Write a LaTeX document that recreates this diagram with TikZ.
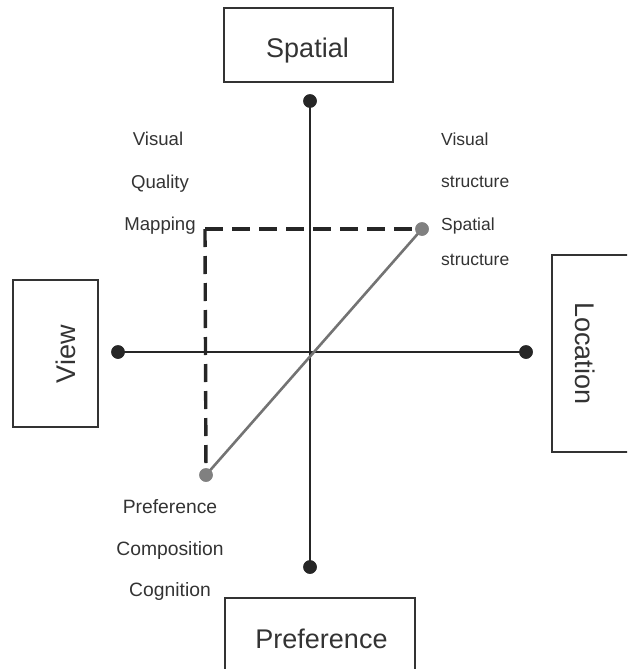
\documentclass[tikz,border=0pt]{standalone}
\usepackage{fontspec}
\setmainfont{Liberation Sans}
\begin{document}
\begin{tikzpicture}[x=1pt,y=-1pt,
  dot/.style={circle,fill=black!85,inner sep=0pt,minimum size=13.5pt},
  gdot/.style={circle,fill=black!50,inner sep=0pt,minimum size=13.5pt},
  axisline/.style={draw=black!85,line width=1.6pt},
  boxnode/.style={draw=black!80,line width=1.5pt,inner sep=0pt},
  dashline/.style={draw=black!85,line width=3.4pt,dash pattern=on 18pt off 9pt},
  greyline/.style={draw=black!55,line width=2.6pt},
  lbl/.style={font=\fontsize{17.5}{20}\selectfont,text=black!80,inner sep=0pt},
  lblb/.style={font=\fontsize{18.6}{21}\selectfont,text=black!80,inner sep=0pt},
  lblc/.style={font=\fontsize{19.3}{22}\selectfont,text=black!80,inner sep=0pt},
  big/.style={font=\fontsize{27}{30}\selectfont,text=black!80,inner sep=0pt}]
\useasboundingbox (0,0) rectangle (627,669);
\clip (0,0) rectangle (627,669);

% boxes
\node[boxnode,minimum width=169pt,minimum height=74pt] (spatialbox) at (308.5,45) {};
\node[boxnode,minimum width=190pt,minimum height=92pt] (prefbox) at (320,644) {};
\node[boxnode,minimum width=85pt,minimum height=147pt] (viewbox) at (55.5,353.5) {};
\node[boxnode,minimum width=98pt,minimum height=197pt] (locbox) at (601,353.5) {};

\node[big,anchor=base] (spatiallbl) at (307.5,58) {Spatial};
\node[big,anchor=base] (preflbl) at (321.5,648) {Preference};
\node[big,anchor=base,rotate=90] (viewlbl) at (75,354) {View};
\node[big,anchor=base,rotate=-90] (loclbl) at (575,353.5) {Location};

% axes
\coordinate (center) at (310,352);
\node[dot] (top) at (310,101) {};
\node[dot] (bottom) at (310,567) {};
\node[dot] (left) at (118,352) {};
\node[dot] (right) at (526,352) {};
\draw[axisline] (top.center) -- (bottom.center);
\draw[axisline] (left.center) -- (right.center);
\node[dot] at (top) {};
\node[dot] at (bottom) {};
\node[dot] at (left) {};
\node[dot] at (right) {};

% dashed and grey lines
\coordinate (corner) at (205,229);
\node[gdot] (g1) at (422,229) {};
\node[gdot] (g2) at (206,475) {};
\draw[dashline] (corner) -- (g1.center);
\draw[dashline] (corner) -- (g2.center);
\draw[greyline] (g2.center) -- (g1.center);
\node[gdot] at (g1) {};
\node[gdot] at (g2) {};

% left labels
\node[lblb,anchor=base] (lv) at (158,145) {Visual};
\node[lblb,anchor=base] (lq) at (160,188) {Quality};
\node[lblb,anchor=base] (lm) at (160,230) {Mapping};

% right labels
\node[lbl,anchor=base west] (rv) at (441,145) {Visual};
\node[lbl,anchor=base west] (rs) at (441,187) {structure};
\node[lbl,anchor=base west] (rsp) at (441,230) {Spatial};
\node[lbl,anchor=base west] (rs2) at (441,265) {structure};

% bottom labels
\node[lblc,anchor=base] (bp) at (170,513) {Preference};
\node[lblc,anchor=base] (bc) at (170,555) {Composition};
\node[lblc,anchor=base] (bg) at (170,596) {Cognition};
\end{tikzpicture}
\end{document}
